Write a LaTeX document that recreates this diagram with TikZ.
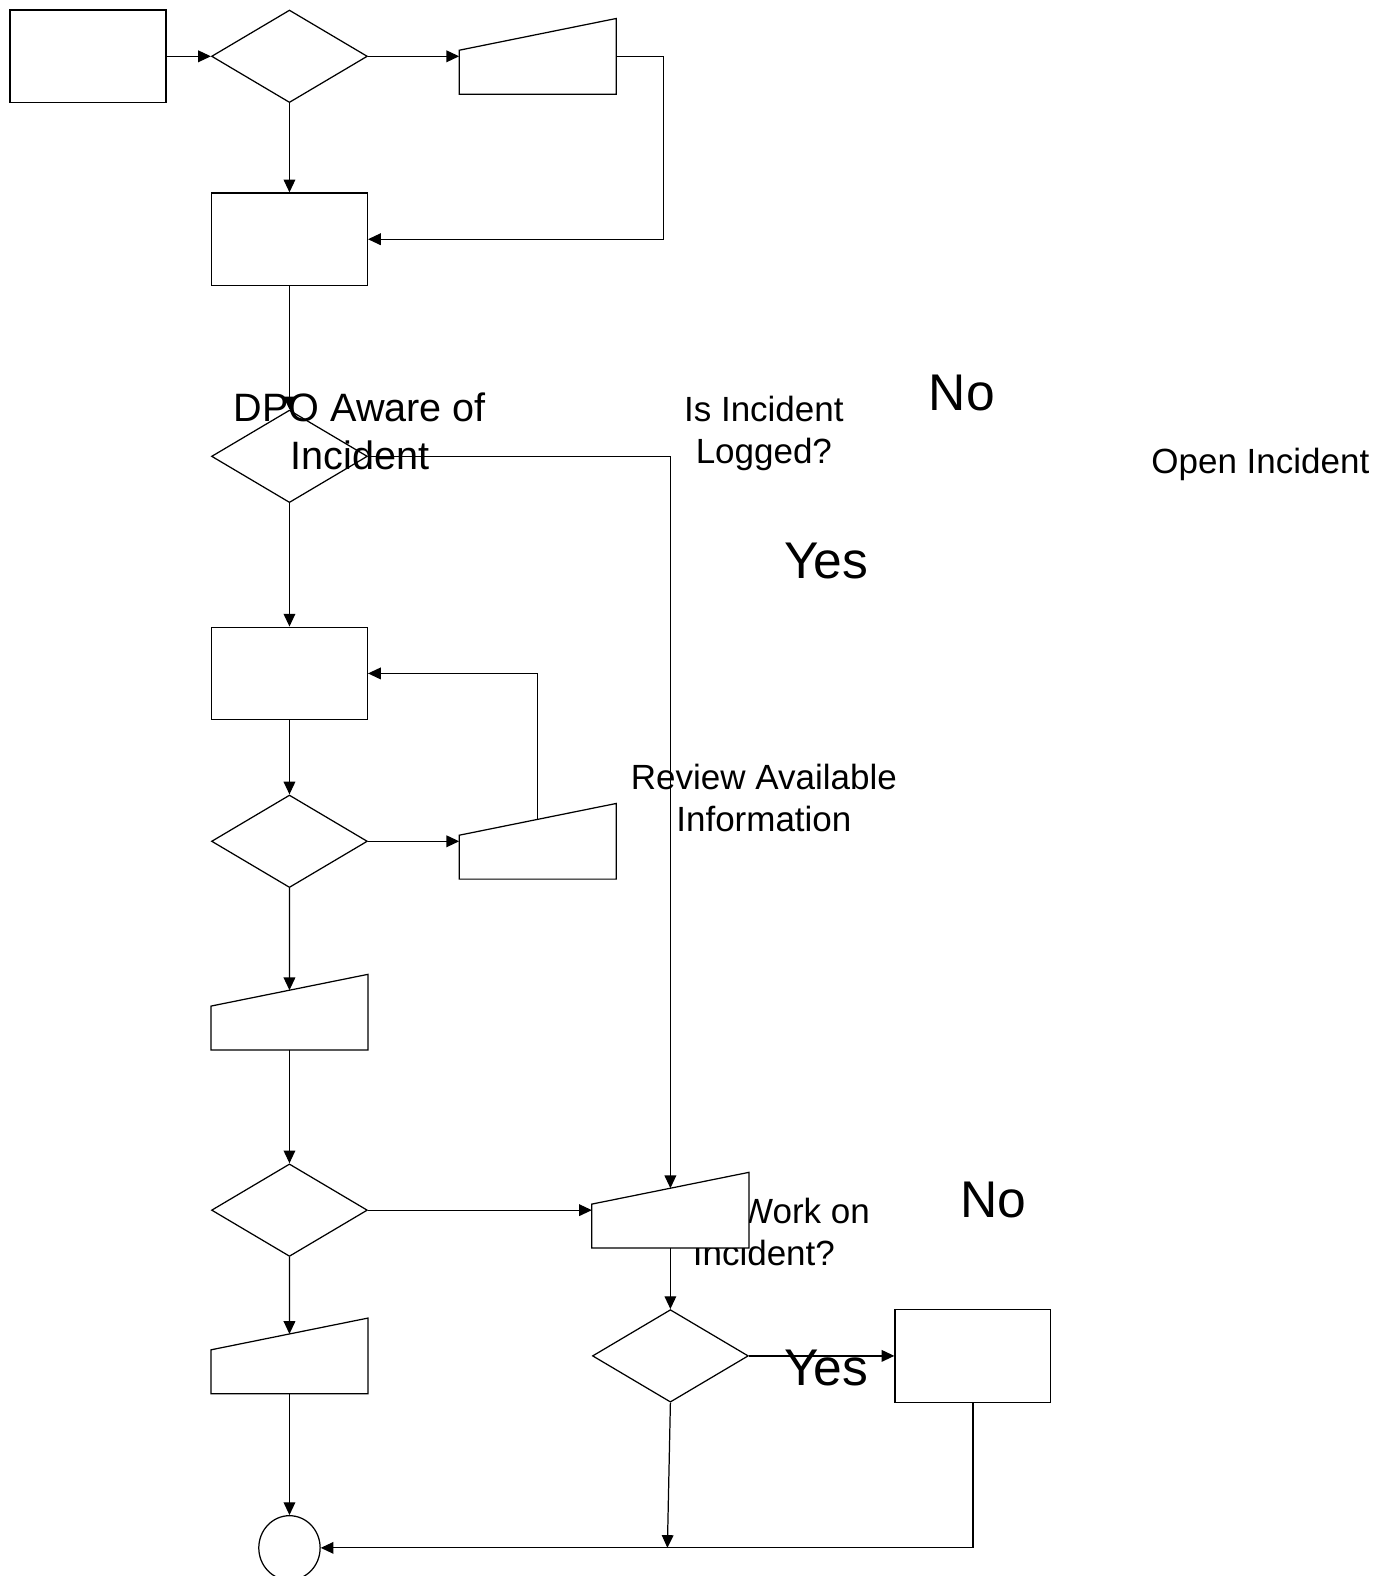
\documentclass[tikz,border=0pt]{standalone}
\usepackage{fontspec}
\setmainfont{Liberation Sans}
\usetikzlibrary{shapes.geometric,arrows.meta,calc}
\newcommand\mishape[1]{%
  \coordinate (#1lt) at ($(#1.south west)!0.58!(#1.north west)$);
  \draw[fill=white] (#1.south west) -- (#1.south east) -- (#1.north east) -- (#1lt) -- cycle;
  \coordinate (#1top) at ($(#1lt)!0.5!(#1.north east)$);}
\begin{document}
\begin{tikzpicture}[x=0.01cm,y=-0.01cm,
  line width=0.35pt,
  box/.style={draw, rectangle, minimum width=1.55cm, minimum height=0.92cm, inner sep=0pt},
  dec/.style={draw, diamond, minimum width=1.55cm, minimum height=0.92cm, inner sep=0pt},
  mi/.style={rectangle, minimum width=1.55cm, minimum height=0.74cm, inner sep=0pt},
  arr/.style={-{Triangle[length=3.6pt,width=3.3pt]}},
  med/.style={font=\fontsize{9.9}{11.9}\selectfont, align=center, inner sep=0pt},
  dpo/.style={font=\fontsize{11.2}{13.4}\selectfont, align=center, inner sep=0pt},
  big/.style={font=\fontsize{14.6}{17}\selectfont, inner sep=0pt},
]
\useasboundingbox (0,0) rectangle (1366,1568);
% texts
\node[dpo] (tdpo) at (358,429) {DPO Aware of\\Incident};
\node[med] (tlog) at (760,431) {Is Incident\\Logged?};
\node[big] (tno1) at (957,391) {No};
\node[med] (topen) at (1254,462) {Open Incident};
\node[big] (tyes1) at (822,558) {Yes};
\node[med] (trev) at (760,794) {Review Available\\Information};
\node[med, anchor=east] (twork) at (866,1205) {Work on};
\node[med] (tinc) at (760,1247) {Incident?};
\node[big] (tno2) at (988,1194) {No};
\node[big] (tyes2) at (822,1361) {Yes};
% shapes
\node[box] (b1) at (87.5,56) {};
\node[dec] (d1) at (288,56) {};
\node[mi] (mi1) at (535,56) {};
\mishape{mi1}
\node[box] (b2) at (288,238) {};
\node[dec] (d2) at (288,454) {};
\node[box] (b3) at (288,670) {};
\node[dec] (d3) at (288,837) {};
\node[mi] (mi2) at (535,837) {};
\mishape{mi2}
\node[mi] (mi3) at (288,1007) {};
\mishape{mi3}
\node[dec] (d4) at (288,1204) {};
\node[mi] (mi4) at (667,1204) {};
\mishape{mi4}
\node[mi] (mi5) at (288,1349) {};
\mishape{mi5}
\node[dec] (d5) at (667,1349) {};
\node[box] (b4) at (968,1349) {};
\node[draw, ellipse, minimum width=0.61cm, minimum height=0.64cm, inner sep=0pt] (end) at (288,1540) {};
\coordinate (j) at (664,1540);
% connectors
\draw[arr] (b1.east) -- (d1.west);
\draw[arr] (d1.east) -- (mi1.west);
\draw[arr] (d1.south) -- (b2.north);
\draw[arr] (mi1.east) -- ++(47,0) |- (b2.east);
\draw[arr] (b2.south) -- (d2.north);
\draw[arr] (d2.east) -| (mi4top);
\draw[arr] (d2.south) -- (b3.north);
\draw[arr] (b3.south) -- (d3.north);
\draw[arr] (d3.east) -- (mi2.west);
\draw[arr] (mi2top) |- (b3.east);
\draw[arr] (d3.south) -- (mi3top);
\draw[arr] (mi3.south) -- (d4.north);
\draw[arr] (d4.east) -- (mi4.west);
\draw[arr] (d4.south) -- (mi5top);
\draw[arr] (mi5.south) -- (end.north);
\draw[arr] (mi4.south) -- (d5.north);
\draw[arr] (d5.east) -- (b4.west);
\draw[arr] (d5.south) -- (j);
\draw[arr] (b4.south) |- (end.east);
\end{tikzpicture}
\end{document}
